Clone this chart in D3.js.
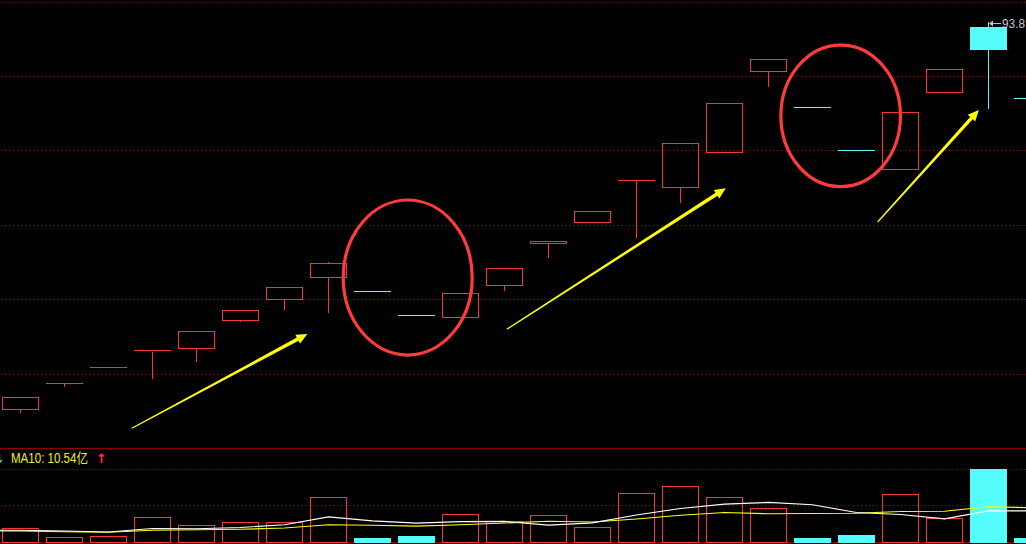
<!DOCTYPE html>
<html><head><meta charset="utf-8">
<script src="https://cdn.jsdelivr.net/npm/d3@7/dist/d3.min.js"></script>
<style>html,body{margin:0;padding:0;background:#000;overflow:hidden}svg{display:block}</style>
</head><body><svg id="c" width="1026" height="544"></svg>
<script>
// ---- data ----
const days   = ["D1","D2","D3","D4","D5","D6","D7","D8","D9","D10","D11","D12","D13","D14","D15","D16","D17","D18","D19","D20","D21","D22","D23","D24"];
const opens  = [20.12,24.92,28.10,31.10,31.71,37.03,41.02,45.20,42.54,37.98,37.60,43.60,51.66,55.65,63.50,62.30,68.95,84.34,77.50,69.38,65.72,80.35,92.75,79.21];
const closes = [22.40,25.06,28.10,31.38,34.94,38.93,43.30,47.86,42.54,37.98,42.16,46.91,52.10,57.74,63.78,70.66,78.26,86.62,77.50,69.38,76.55,84.72,88.63,79.21];
const highs  = [22.40,25.06,28.10,31.38,34.94,38.93,43.30,48.10,42.54,37.98,42.16,46.91,52.10,57.74,63.78,70.66,78.26,86.62,77.50,69.38,76.55,84.72,93.80,79.21];
const lows   = [19.47,24.41,28.10,25.93,29.16,36.76,39.04,38.47,42.54,37.98,37.60,42.65,48.92,55.65,52.76,59.37,68.95,81.41,77.50,69.38,65.72,80.35,77.12,79.21];
const volumes= [4.13,1.31,1.63,7.56,5.06,6.00,6.00,13.82,1.09,1.72,8.50,6.31,8.19,4.44,15.07,17.26,13.82,10.38,1.09,2.03,14.75,7.25,22.66,1.09]; // 亿
const ma5    = [3.50,3.28,2.97,4.06,4.00,4.38,5.25,7.69,6.44,5.75,6.22,6.28,5.13,5.81,8.28,10.32,11.69,12.22,11.47,9.07,8.44,7.06,9.57,9.57];
const ma10   = [3.28,3.06,2.88,3.50,3.69,3.81,4.22,5.25,5.06,4.81,5.25,5.78,6.31,6.10,7.03,8.22,9.07,8.66,8.75,8.82,9.38,9.47,10.88,10.54];
const maxLabel = "93.8";
const legendText = "MA10: 10.54亿";
// annotations in data coordinates: [index, price, index, price]
const arrowsData = [[2.53,16.51,6.52,34.43],[11.05,35.32,16.03,62.11],[19.48,55.71,21.78,76.99]];
// ellipses: [centerIndex, centerPrice, radiusIndex, radiusPrice]
const circlesData = [[8.80,45.16,1.466,14.73],[18.64,75.88,1.359,13.45]];

// ---- layout ----
const W = 1026, H = 544;
const priceTop = 1.5, priceBottom = 448;
const volTop = 469, volBottom = 541.5;
const UP = "#ff3232", DOWN = "#54fcfc", GRID = "#a00000", SEP = "#8c0000";

const svg = d3.select("#c");
svg.append("rect").attr("width", W).attr("height", H).attr("fill", "#000");

const x = d3.scaleLinear().domain([0, days.length - 1]).range([20.5, 20.5 + 44 * (days.length - 1)]);
const y = d3.scaleLinear().domain([12.77, 97.6]).range([priceBottom, priceTop]);
const yv = d3.scaleLinear().domain([0, d3.max(volumes)]).range([volBottom, volTop]);
const half = 18;

// grid
const gridG = svg.append("g").attr("shape-rendering", "crispEdges");
const nDiv = 6;
for (let k = 0; k < nDiv; k++) {
  const gy = Math.round(priceTop + (priceBottom - priceTop) * k / nDiv) + 0.5;
  gridG.append("line").attr("x1", 1).attr("x2", W).attr("y1", gy).attr("y2", gy)
    .attr("stroke", GRID).attr("stroke-dasharray", "1,3");
}
[d3.max(volumes), d3.max(volumes) / 2].forEach(v => {
  const gy = Math.round(yv(v)) + 0.5;
  gridG.append("line").attr("x1", 1).attr("x2", W).attr("y1", gy).attr("y2", gy)
    .attr("stroke", GRID).attr("stroke-dasharray", "1,3");
});
gridG.append("line").attr("x1", 0).attr("x2", W).attr("y1", 448.5).attr("y2", 448.5).attr("stroke", SEP);
gridG.append("line").attr("x1", 0).attr("x2", W).attr("y1", 542.5).attr("y2", 542.5).attr("stroke", SEP);

// candles
const data = days.map((d, i) => ({
  i, o: opens[i], c: closes[i], h: highs[i], l: lows[i], v: volumes[i],
  up: closes[i] > opens[i] || (closes[i] === opens[i] && (i === 0 || closes[i] >= closes[i - 1]))
}));

const cg = svg.append("g").attr("shape-rendering", "crispEdges");
data.forEach(d => {
  const col = d.up ? UP : DOWN;
  const cx = Math.floor(x(d.i)) + 0.5;
  const yTop = y(Math.max(d.o, d.c)), yBot = y(Math.min(d.o, d.c));
  if (y(d.h) < yTop - 0.5) cg.append("line").attr("x1", cx).attr("x2", cx).attr("y1", y(d.h)).attr("y2", yTop).attr("stroke", col);
  if (y(d.l) > yBot + 0.5) cg.append("line").attr("x1", cx).attr("x2", cx).attr("y1", yBot).attr("y2", y(d.l)).attr("stroke", col);
  const bh = yBot - yTop;
  if (bh < 2) {
    cg.append("rect").attr("x", cx - half - 0.5).attr("width", 2 * half + 1)
      .attr("y", Math.round(yTop)).attr("height", Math.max(1, Math.round(bh)))
      .attr("fill", col);
  } else if (d.up) {
    cg.append("rect").attr("x", cx - half).attr("width", 2 * half)
      .attr("y", Math.round(yTop) + 0.5).attr("height", Math.round(bh))
      .attr("fill", "none").attr("stroke", col);
  } else {
    cg.append("rect").attr("x", cx - half - 0.5).attr("width", 2 * half + 1)
      .attr("y", Math.round(yTop)).attr("height", Math.round(bh) + 1)
      .attr("fill", col);
  }
  const vTop = Math.round(yv(d.v));
  if (d.up) {
    cg.append("rect").attr("x", cx - half).attr("width", 2 * half)
      .attr("y", vTop + 0.5).attr("height", Math.round(volBottom) - vTop)
      .attr("fill", "none").attr("stroke", col);
  } else {
    cg.append("rect").attr("x", cx - half - 0.5).attr("width", 2 * half + 1)
      .attr("y", vTop).attr("height", Math.round(volBottom) - vTop + 1)
      .attr("fill", col);
  }
});

// moving-average lines
const maLine = d3.line().x(p => p[0]).y(p => yv(p[1]));
function maPts(arr) {
  const pts = arr.map((v, i) => [x(i), v]);
  pts.unshift([0, arr[0]]);
  return pts;
}
svg.append("path").attr("d", maLine(maPts(ma10))).attr("fill", "none").attr("stroke", "#ffff00").attr("stroke-width", 1.1);
svg.append("path").attr("d", maLine(maPts(ma5))).attr("fill", "none").attr("stroke", "#ffffff").attr("stroke-width", 1.1);

// max price label
const imax = d3.maxIndex(highs);
const lx = Math.floor(x(imax)) + 1, ly = Math.round(y(highs[imax])) + 1.5;
svg.append("line").attr("x1", lx + 1).attr("x2", lx + 12).attr("y1", ly).attr("y2", ly).attr("stroke", "#c0c0c0");
svg.append("path").attr("d", `M${lx},${ly} l4,-3 l0,6 z`).attr("fill", "#c0c0c0");
svg.append("text").attr("x", lx + 13).attr("y", ly).attr("dy", "0.36em")
  .attr("fill", "#c0c8d0").attr("font-family", "Liberation Sans, Arial, sans-serif").attr("font-size", 13)
  .attr("textLength", 23).attr("lengthAdjust", "spacingAndGlyphs")
  .text(maxLabel);

// legend
svg.append("text").attr("x", 5).attr("y", 463).attr("text-anchor", "end").attr("fill", DOWN)
  .attr("font-family", "DejaVu Sans, sans-serif").attr("font-size", 13).text("↓");
svg.append("text").attr("x", 11).attr("y", 463).attr("fill", "#f0f020")
  .attr("font-family", "Liberation Sans, 'Noto Sans CJK SC', sans-serif").attr("font-size", 14)
  .attr("textLength", 77).attr("lengthAdjust", "spacingAndGlyphs").text(legendText);
svg.append("text").attr("x", 96).attr("y", 463).attr("fill", UP)
  .attr("font-family", "DejaVu Sans, sans-serif").attr("font-size", 13).attr("font-weight", "bold").text("↑");

// annotations: ellipses
circlesData.forEach(cd => {
  svg.append("ellipse").attr("cx", x(cd[0])).attr("cy", y(cd[1]))
    .attr("rx", x(cd[2]) - x(0)).attr("ry", y(0) - y(cd[3]))
    .attr("fill", "none").attr("stroke", "#ff3b3b").attr("stroke-width", 3.2);
});

// annotations: tapered arrows
arrowsData.forEach(a => {
  const x0 = x(a[0]), y0 = y(a[1]), x1 = x(a[2]), y1 = y(a[3]);
  const len = Math.hypot(x1 - x0, y1 - y0);
  const ux = (x1 - x0) / len, uy = (y1 - y0) / len, nx = -uy, ny = ux;
  const hb = [x1 - ux * 11, y1 - uy * 11];
  const pts = [
    [x0 + nx * 0.6, y0 + ny * 0.6],
    [hb[0] + nx * 1.8, hb[1] + ny * 1.8],
    [hb[0] + nx * 5, hb[1] + ny * 5],
    [x1, y1],
    [hb[0] - nx * 5, hb[1] - ny * 5],
    [hb[0] - nx * 1.8, hb[1] - ny * 1.8],
    [x0 - nx * 0.6, y0 - ny * 0.6]
  ];
  svg.append("polygon").attr("points", pts.map(p => p.join(",")).join(" ")).attr("fill", "#ffff00");
});
</script></body></html>
